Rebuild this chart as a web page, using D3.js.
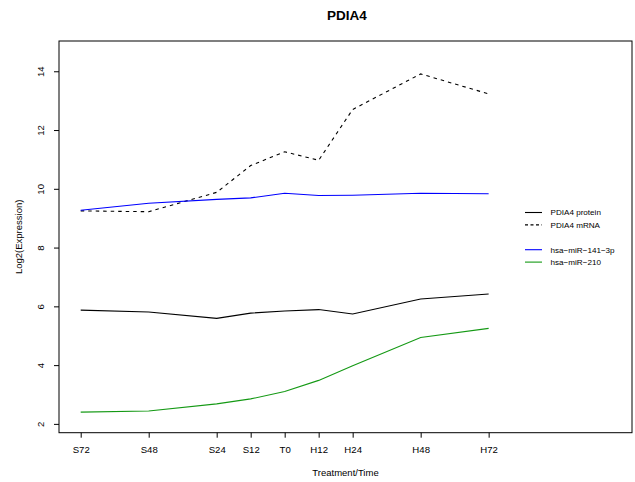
<!DOCTYPE html>
<html>
<head>
<meta charset="utf-8">
<script src="https://cdn.jsdelivr.net/npm/d3@7/dist/d3.min.js"></script>
<style>
  html, body { margin: 0; padding: 0; background: #fff; }
  svg { display: block; font-family: "Liberation Sans", Arial, Helvetica, sans-serif; }
</style>
</head>
<body>
<svg id="chart" width="635" height="482"></svg>
<script>
// Time points (hours; S = starvation, H = recovery) and their labels
const timeLabels = ["S72", "S48", "S24", "S12", "T0", "H12", "H24", "H48", "H72"];
const timeHours  = [-72, -48, -24, -12, 0, 12, 24, 48, 72];

// Log2 expression per series
const proteinPDIA4 = [5.87, 5.81, 5.59, 5.77, 5.84, 5.89, 5.74, 6.25, 6.42];
const mrnaPDIA4    = [9.25, 9.22, 9.88, 10.79, 11.26, 10.97, 12.70, 13.91, 13.23];
const mir141       = [9.27, 9.51, 9.64, 9.69, 9.85, 9.77, 9.78, 9.85, 9.83];
const mir210       = [2.40, 2.44, 2.68, 2.85, 3.10, 3.48, 3.98, 4.94, 5.25];

const yTicks = [2, 4, 6, 8, 10, 12, 14];

const series = [
  { name: "PDIA4 protein",   values: proteinPDIA4, color: "#000000", dash: null },
  { name: "PDIA4 mRNA",      values: mrnaPDIA4,    color: "#000000", dash: "3.5,4" },
  { name: null },
  { name: "hsa\u2212miR\u2212141\u22123p", values: mir141, color: "#0000ff", dash: null },
  { name: "hsa\u2212miR\u2212210",         values: mir210, color: "#149914", dash: null }
];

const svg = d3.select("#chart");
const plot = { left: 59, right: 632, top: 41, bottom: 432.7 };

const x = d3.scaleLinear().domain([-79.66, 122.6]).range([plot.left, plot.right]);
const y = d3.scaleLinear().domain([1.70, 15.03]).range([plot.bottom, plot.top]);

// Plot frame
svg.append("rect")
  .attr("x", plot.left).attr("y", plot.top)
  .attr("width", plot.right - plot.left).attr("height", plot.bottom - plot.top)
  .attr("fill", "none").attr("stroke", "#000").attr("stroke-width", 1);

// Bottom axis
const xAxis = d3.axisBottom(x)
  .tickValues(timeHours)
  .tickFormat((d, i) => timeLabels[i])
  .tickSize(5).tickPadding(8);
const gx = svg.append("g").attr("transform", `translate(0,${plot.bottom})`).call(xAxis);
gx.select(".domain").remove();
gx.selectAll("text").attr("font-size", 9.6).attr("fill", "#000").attr("font-family", "Liberation Sans, Arial, sans-serif");

// Left axis with rotated labels
const yAxis = d3.axisLeft(y).tickValues(yTicks).tickSize(5).tickFormat(d3.format("d"));
const gy = svg.append("g").attr("transform", `translate(${plot.left},0)`).call(yAxis);
gy.select(".domain").remove();
gy.selectAll(".tick text")
  .attr("font-size", 9.6).attr("fill", "#000")
  .attr("font-family", "Liberation Sans, Arial, sans-serif")
  .attr("x", 0).attr("dy", null)
  .attr("text-anchor", "middle")
  .attr("transform", "translate(-18.3,0) rotate(-90) translate(0,3.4)");

// Series lines
const line = d3.line().x((d, i) => x(timeHours[i])).y(d => y(d));
series.filter(s => s.values).forEach(s => {
  svg.append("path")
    .datum(s.values)
    .attr("d", line)
    .attr("fill", "none")
    .attr("stroke", s.color)
    .attr("stroke-width", 1.1)
    .attr("stroke-dasharray", s.dash);
});

// Legend
const legend = svg.append("g");
series.forEach((s, i) => {
  if (!s.name) return;
  const ly = 212.5 + i * 12.4;
  legend.append("line")
    .attr("x1", 525).attr("x2", 542).attr("y1", ly).attr("y2", ly)
    .attr("stroke", s.color).attr("stroke-width", 1.1)
    .attr("stroke-dasharray", s.dash ? "3,2.5" : null);
  legend.append("text")
    .attr("x", 550.5).attr("y", ly).attr("dy", "0.35em")
    .attr("font-size", 8.1).attr("fill", "#000")
    .text(s.name);
});

// Titles
svg.append("text")
  .attr("x", 347).attr("y", 15).attr("dy", "0.35em")
  .attr("text-anchor", "middle").attr("font-weight", "bold").attr("font-size", 13.5)
  .text("PDIA4");

svg.append("text")
  .attr("x", (plot.left + plot.right) / 2).attr("y", 473).attr("dy", "0.35em")
  .attr("text-anchor", "middle").attr("font-size", 9.5)
  .text("Treatment/Time");

svg.append("text")
  .attr("transform", `translate(18.3,${(plot.top + plot.bottom) / 2}) rotate(-90)`)
  .attr("dy", "0.35em")
  .attr("text-anchor", "middle").attr("font-size", 9.5)
  .text("Log2(Expression)");
</script>
</body>
</html>
